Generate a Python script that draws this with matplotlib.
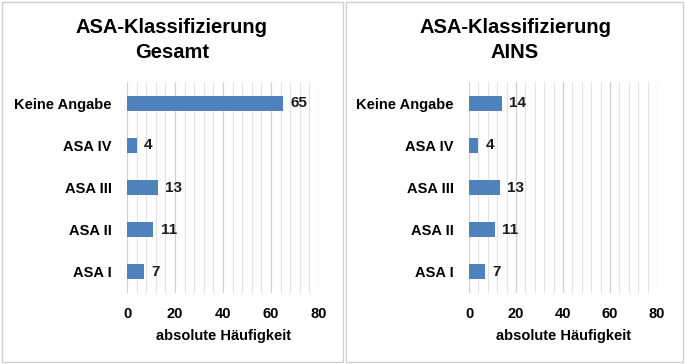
import numpy as np
import matplotlib.pyplot as plt
from matplotlib.patches import Rectangle

plt.rcParams['font.family'] = ['Liberation Sans', 'DejaVu Sans']
plt.rcParams['font.weight'] = 'bold'

categories = ["ASA I", "ASA II", "ASA III", "ASA IV", "Keine Angabe"]
gesamt = [7, 11, 13, 4, 65]
ains = [7, 11, 13, 4, 14]
titles = ["ASA-Klassifizierung\nGesamt", "ASA-Klassifizierung\nAINS"]
xticks = [0, 20, 40, 60, 80]

W, H = 685, 364
fig = plt.figure(figsize=(W / 100, H / 100), dpi=100)

def px(x0, y0, x1, y1):
    # pixel box (top-left origin) -> figure fraction
    return [x0 / W, 1 - y1 / H, (x1 - x0) / W, (y1 - y0) / H]

# panel frames
for x0, x1 in [(2, 343), (346, 683)]:
    fig.patches.append(Rectangle((x0 / W, 2 / H), (x1 - x0) / W, (H - 4) / H,
                                 transform=fig.transFigure, fill=False,
                                 edgecolor='#d0d0d0', linewidth=1))

panels = [(gesamt, titles[0], 127, 319, 172), (ains, titles[1], 469, 657, 515)]
for vals, title, ax0, ax1, tx in panels:
    ax = fig.add_axes(px(ax0, 82, ax1, 293))
    y = np.arange(len(categories))
    ax.barh(y, vals, height=0.36, color='#4f81bd', zorder=3)
    for yi, v in zip(y, vals):
        ax.text(v + 3, yi, str(v), va='center', ha='left', fontsize=11,
                fontweight='bold', color='#1a1a1a')
    ax.set_xlim(0, 80)
    ax.set_ylim(-0.5, len(categories) - 0.5)
    ax.set_yticks(y)
    ax.set_yticklabels(categories, fontsize=10.5, fontweight='bold')
    ax.set_xticks(xticks)
    ax.set_xticklabels([str(t) for t in xticks], fontsize=10.5, fontweight='bold')
    ax.set_xticks(np.arange(0, 81, 4), minor=True)
    ax.grid(axis='x', which='major', color='#d0d0d0', linewidth=0.9, zorder=0)
    ax.grid(axis='x', which='minor', color='#e3e3e3', linewidth=0.8, zorder=0)
    ax.tick_params(axis='both', which='both', length=0)
    ax.tick_params(axis='x', pad=10)
    ax.tick_params(axis='y', pad=11)
    for s in ax.spines.values():
        s.set_visible(False)
    ax.set_xlabel("absolute Häufigkeit", fontsize=10.5, fontweight='bold', labelpad=6)
    fig.text(tx / W, 1 - 40 / H, title, ha='center', va='center',
             fontsize=14.5, fontweight='bold', linespacing=1.4)

fig.savefig("out.png", dpi=100)
